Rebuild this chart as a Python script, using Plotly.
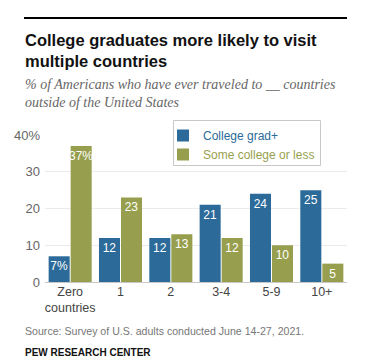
import plotly.graph_objects as go

categories = ["Zero<br>countries", "1", "2", "3-4", "5-9", "10+"]
college_grad = [7, 12, 12, 21, 24, 25]
some_college = [37, 23, 13, 12, 10, 5]
college_labels = ["7%", "12", "12", "21", "24", "25"]
some_labels = ["37%", "23", "13", "12", "10", "5"]
y_ticks = [0, 10, 20, 30, 40]
y_tick_labels = ["0", "10", "20", "30", "40%"]

BLUE = "#2b6a99"
GREEN = "#979f4f"

W, H = 374, 362
PL, PR, PT, PB = 45, 347, 135, 282


def px(x):
    return (x - PL) / (PR - PL)


def py(y):
    return (PB - y) / (PB - PT)


fig = go.Figure()
fig.add_trace(go.Bar(
    x=categories, y=college_grad, name=f"<span style='color:{BLUE}'>College grad+</span>",
    marker=dict(color=BLUE, line=dict(width=0)),
    text=college_labels, textposition="inside", insidetextanchor="end",
    textangle=0, constraintext="none",
    textfont=dict(color="white", size=12, family="Liberation Sans, Arial, sans-serif"),
    hoverinfo="skip",
))
fig.add_trace(go.Bar(
    x=categories, y=some_college, name=f"<span style='color:{GREEN}'>Some college or less</span>",
    marker=dict(color=GREEN, line=dict(width=0)),
    text=some_labels, textposition="inside", insidetextanchor="end",
    textangle=0, constraintext="none",
    textfont=dict(color="white", size=12, family="Liberation Sans, Arial, sans-serif"),
    hoverinfo="skip",
))

fig.update_layout(
    width=W, height=H,
    margin=dict(l=PL, r=W - PR, t=PT, b=H - PB, pad=0, autoexpand=False),
    paper_bgcolor="white", plot_bgcolor="white",
    barmode="group", bargap=0.125, bargroupgap=0.045,
    font=dict(family="Liberation Sans, Arial, sans-serif", color="#555"),
    uniformtext=dict(minsize=12, mode="show"),
    showlegend=True,
    legend=dict(
        x=px(163), y=py(121), xanchor="left", yanchor="top",
        bgcolor="rgba(0,0,0,0)", borderwidth=0,
        font=dict(size=12, family="Liberation Sans, Arial, sans-serif"),
        traceorder="normal", itemwidth=30, tracegroupgap=0,
    ),
    xaxis=dict(
        type="category", range=[-0.5, 5.5], showgrid=False, showline=False,
        ticks="", tickfont=dict(size=12.5, color="#444"), fixedrange=True,
        automargin=False,
    ),
    yaxis=dict(
        range=[0, 40], tickvals=y_ticks, ticktext=y_tick_labels,
        showgrid=True, gridcolor="#ebebeb", gridwidth=1,
        zeroline=True, zerolinecolor="#c8c8c8", zerolinewidth=1,
        showline=False, ticks="", tickfont=dict(size=13, color="#666"),
        fixedrange=True, ticklabelstandoff=4, automargin=False,
    ),
    shapes=[
        dict(type="line", xref="paper", yref="paper",
             x0=px(24), x1=px(347), y0=py(18), y1=py(18),
             line=dict(color="black", width=2)),
        dict(type="rect", xref="paper", yref="paper", layer="above",
             x0=px(173.5), x1=px(320.5), y0=py(120.5), y1=py(165.5),
             fillcolor="white", line=dict(color="#c8c8c8", width=1)),
    ],
    annotations=[
        dict(text="<b>College graduates more likely to visit<br>multiple countries</b>",
             xref="paper", yref="paper", x=px(23), y=py(29), xanchor="left", yanchor="top",
             align="left", showarrow=False,
             font=dict(size=16.5, color="#111", family="Liberation Sans, Arial, sans-serif")),
        dict(text="<i>% of Americans who have ever traveled to __ countries<br>outside of the United States</i>",
             xref="paper", yref="paper", x=px(23), y=py(75), xanchor="left", yanchor="top",
             align="left", showarrow=False,
             font=dict(size=14, color="#666", family="Liberation Serif, DejaVu Serif, serif")),
        dict(text="Source: Survey of U.S. adults conducted June 14-27, 2021.",
             xref="paper", yref="paper", x=px(23), y=py(331), xanchor="left", yanchor="middle",
             align="left", showarrow=False,
             font=dict(size=10.6, color="#777", family="Liberation Sans, Arial, sans-serif")),
        dict(text="<b>PEW RESEARCH CENTER</b>",
             xref="paper", yref="paper", x=px(23), y=py(352), xanchor="left", yanchor="middle",
             align="left", showarrow=False,
             font=dict(size=10, color="#111", family="Liberation Sans Narrow, Liberation Sans, Arial, sans-serif")),
    ],
)

fig.write_html(
    "out.html",
    config={"displayModeBar": False},
    post_script="document.body.style.margin='0';document.body.style.padding='0';",
)
